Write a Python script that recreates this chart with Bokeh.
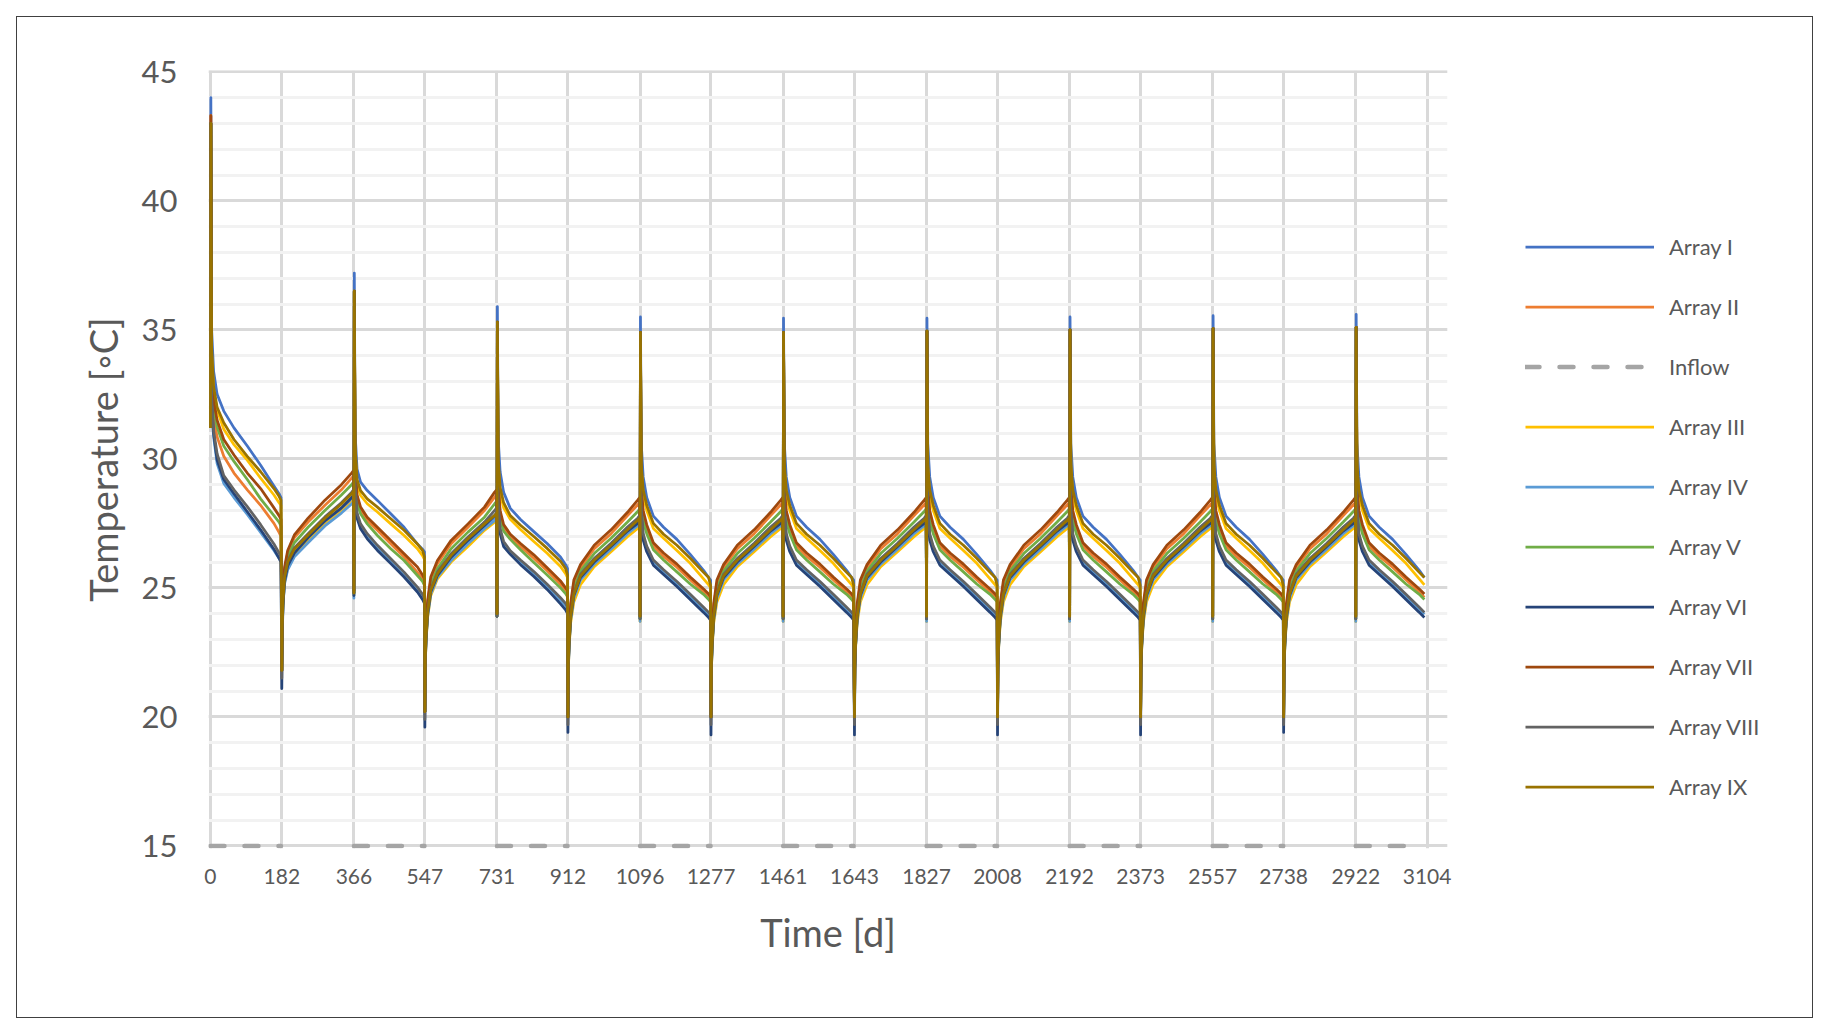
from bokeh.plotting import figure
from bokeh.models import Range1d, FixedTicker, Legend, LegendItem, InlineStyleSheet
from bokeh.embed import file_html
from bokeh.resources import INLINE

# ---------------- data ----------------
BOUNDS = [0, 182, 366, 547, 731, 912, 1096, 1277, 1461, 1643, 1827, 2008,
          2192, 2373, 2557, 2738, 2922, 3104]
TICK_LABELS = [str(b) for b in BOUNDS]
Y_TICKS = [15, 20, 25, 30, 35, 40, 45]
Y_MINOR = list(range(15, 46))

# sample days inside a half-year (relative to its start)
A_OFFSETS = [0, 1, 3, 8, 17, 34, 60, 94, 128, 162, 175, 180]
B_OFFSETS = [0, 1, 3, 7, 15, 32, 67, 110, 152, 178, 183]
LAST_OFFSET = 175

SERIES = ["Array I", "Array II", "Array III", "Array IV", "Array V",
          "Array VI", "Array VII", "Array VIII", "Array IX"]
COLORS = {"Array I": "#4472C4", "Array II": "#ED7D31", "Array III": "#FFC000",
          "Array IV": "#5B9BD5", "Array V": "#70AD47", "Array VI": "#264478",
          "Array VII": "#9E480E", "Array VIII": "#636363", "Array IX": "#997300"}
INFLOW_COLOR = "#A5A5A5"

# half-year profiles
A1 = {
    "Array I":    [31.2, 44.0, 35.0, 33.4, 32.5, 31.85, 31.2, 30.5, 29.75, 28.95, 28.65, 28.5],
    "Array II":   [31.2, 43.3, 32.9, 31.6, 30.85, 30.1, 29.45, 28.8, 28.2, 27.5, 27.15, 27.0],
    "Array III":  [31.2, 43.0, 34.0, 32.65, 31.9, 31.15, 30.55, 29.95, 29.25, 28.6, 28.3, 28.2],
    "Array IV":   [31.2, 43.0, 32.0, 30.85, 29.82, 29.05, 28.5, 27.85, 27.15, 26.45, 26.15, 26.0],
    "Array V":    [31.2, 43.0, 33.3, 32.0, 31.23, 30.5, 29.9, 29.2, 28.45, 27.8, 27.55, 27.4],
    "Array VI":   [31.2, 43.0, 32.2, 30.98, 29.95, 29.2, 28.65, 27.95, 27.25, 26.5, 26.15, 26.0],
    "Array VII":  [31.2, 43.3, 33.6, 32.27, 31.5, 30.75, 30.15, 29.45, 28.85, 28.1, 27.8, 27.65],
    "Array VIII": [31.2, 43.0, 32.4, 31.1, 30.2, 29.35, 28.8, 28.15, 27.45, 26.7, 26.35, 26.2],
    "Array IX":   [31.2, 43.0, 34.3, 32.8, 32.0, 31.4, 30.75, 30.1, 29.5, 28.85, 28.55, 28.4],
}
A2 = {
    "Array I":    [24.8, 37.2, 31.0, 29.6, 29.1, 28.77, 28.39, 27.87, 27.35, 26.7, 26.5, 26.4],
    "Array II":   [24.9, 36.5, 29.6, 28.45, 28.0, 27.6, 27.23, 26.71, 26.2, 25.6, 25.35, 25.2],
    "Array III":  [24.7, 36.5, 30.2, 29.0, 28.58, 28.26, 27.94, 27.48, 27.03, 26.52, 26.25, 26.1],
    "Array IV":   [24.6, 36.5, 28.9, 27.8, 27.35, 26.97, 26.52, 26.0, 25.48, 24.9, 24.65, 24.5],
    "Array V":    [24.8, 36.5, 29.5, 28.3, 27.87, 27.48, 27.03, 26.52, 26.06, 25.48, 25.25, 25.1],
    "Array VI":   [24.7, 36.5, 28.8, 27.7, 27.29, 26.9, 26.45, 25.94, 25.42, 24.84, 24.55, 24.4],
    "Array VII":  [24.9, 36.5, 29.8, 28.6, 28.13, 27.74, 27.35, 26.84, 26.32, 25.81, 25.5, 25.35],
    "Array VIII": [24.8, 36.5, 29.0, 27.9, 27.48, 27.1, 26.65, 26.13, 25.61, 25.03, 24.75, 24.6],
    "Array IX":   [24.8, 36.5, 30.5, 29.2, 28.77, 28.45, 28.13, 27.68, 27.23, 26.7, 26.45, 26.2],
}
A3 = {
    "Array I":    [23.9, 35.9, 30.8, 29.5, 28.7, 28.08, 27.65, 27.18, 26.72, 26.2, 25.9, 25.75],
    "Array II":   [24.0, 35.3, 29.0, 27.85, 27.33, 26.95, 26.6, 26.15, 25.66, 25.14, 24.9, 24.75],
    "Array III":  [23.9, 35.3, 29.8, 28.7, 28.1, 27.66, 27.26, 26.8, 26.34, 25.83, 25.55, 25.4],
    "Array IV":   [23.9, 35.3, 28.3, 27.2, 26.7, 26.35, 25.98, 25.53, 25.04, 24.52, 24.3, 24.15],
    "Array V":    [23.9, 35.3, 28.8, 27.7, 27.2, 26.88, 26.48, 25.98, 25.5, 25.0, 24.78, 24.65],
    "Array VI":   [23.9, 35.3, 28.2, 27.1, 26.6, 26.3, 25.9, 25.44, 24.94, 24.38, 24.15, 24.0],
    "Array VII":  [24.0, 35.3, 29.1, 28.0, 27.45, 27.08, 26.72, 26.28, 25.78, 25.27, 25.0, 24.9],
    "Array VIII": [23.9, 35.3, 28.4, 27.3, 26.8, 26.44, 26.08, 25.63, 25.14, 24.62, 24.4, 24.25],
    "Array IX":   [24.0, 35.3, 30.0, 28.9, 28.3, 27.8, 27.43, 26.99, 26.53, 26.03, 25.75, 25.5],
}
A_LATE = {
    "Array I":    [23.8, 35.5, 30.6, 29.3, 28.5, 27.78, 27.35, 26.88, 26.3, 25.68, 25.4, 25.3],
    "Array II":   [23.9, 34.9, 28.8, 27.85, 27.32, 26.62, 26.22, 25.8, 25.32, 24.84, 24.63, 24.52],
    "Array III":  [23.7, 34.9, 29.6, 28.6, 28.0, 27.3, 26.92, 26.45, 25.95, 25.35, 25.12, 25.0],
    "Array IV":   [23.7, 34.9, 28.0, 27.0, 26.55, 26.0, 25.62, 25.15, 24.65, 24.15, 23.98, 23.9],
    "Array V":    [23.8, 34.9, 28.6, 27.6, 27.1, 26.48, 26.08, 25.62, 25.15, 24.75, 24.55, 24.45],
    "Array VI":   [23.8, 34.9, 27.9, 26.85, 26.4, 25.88, 25.52, 25.05, 24.55, 24.05, 23.85, 23.75],
    "Array VII":  [23.9, 34.9, 28.9, 28.0, 27.45, 26.75, 26.35, 25.92, 25.42, 24.96, 24.76, 24.65],
    "Array VIII": [23.8, 34.9, 28.1, 27.1, 26.62, 26.08, 25.7, 25.25, 24.75, 24.25, 24.05, 23.95],
    "Array IX":   [23.9, 34.9, 29.8, 28.8, 28.2, 27.5, 27.08, 26.65, 26.15, 25.6, 25.4, 25.1],
}
B1 = {
    "Array I":    [21.8, 23.4, 24.4, 25.3, 25.85, 26.3, 26.9, 27.55, 28.05, 28.45, 28.55],
    "Array II":   [21.8, 23.7, 24.8, 25.7, 26.35, 26.95, 27.55, 28.2, 28.8, 29.25, 29.35],
    "Array III":  [21.8, 23.4, 24.4, 25.2, 25.75, 26.25, 26.8, 27.45, 27.95, 28.3, 28.4],
    "Array IV":   [21.8, 23.3, 24.3, 25.15, 25.7, 26.2, 26.75, 27.4, 27.9, 28.25, 28.35],
    "Array V":    [21.8, 23.6, 24.7, 25.6, 26.2, 26.75, 27.35, 28.0, 28.6, 29.0, 29.1],
    "Array VI":   [21.1, 23.0, 24.3, 25.25, 25.85, 26.35, 26.95, 27.6, 28.1, 28.5, 28.6],
    "Array VII":  [21.8, 23.8, 24.9, 25.8, 26.45, 27.05, 27.7, 28.4, 29.0, 29.45, 29.55],
    "Array VIII": [21.5, 23.3, 24.5, 25.45, 26.05, 26.55, 27.1, 27.75, 28.3, 28.7, 28.8],
    "Array IX":   [21.8, 23.5, 24.5, 25.4, 26.0, 26.5, 27.05, 27.7, 28.25, 28.65, 28.75],
}
B2 = {
    "Array I":    [20.2, 22.2, 23.0, 23.95, 24.8, 25.45, 26.15, 26.8, 27.38, 27.75, 27.85],
    "Array II":   [20.2, 22.5, 23.4, 24.4, 25.3, 25.94, 26.71, 27.35, 28.0, 28.52, 28.6],
    "Array III":  [20.2, 22.0, 22.9, 23.85, 24.7, 25.35, 26.0, 26.6, 27.23, 27.55, 27.6],
    "Array IV":   [20.2, 22.1, 22.95, 23.9, 24.75, 25.42, 26.06, 26.71, 27.29, 27.6, 27.7],
    "Array V":    [20.2, 22.4, 23.3, 24.25, 25.1, 25.74, 26.52, 27.16, 27.74, 28.26, 28.35],
    "Array VI":   [19.6, 22.0, 23.0, 24.0, 24.85, 25.48, 26.19, 26.84, 27.42, 27.81, 27.9],
    "Array VII":  [20.2, 22.6, 23.5, 24.5, 25.42, 26.06, 26.84, 27.48, 28.13, 28.71, 28.8],
    "Array VIII": [19.9, 22.2, 23.1, 24.1, 24.95, 25.61, 26.32, 26.97, 27.55, 28.0, 28.1],
    "Array IX":   [20.2, 22.3, 23.1, 24.05, 24.9, 25.55, 26.26, 26.9, 27.48, 27.81, 27.9],
}
B_LATE = {
    "Array I":    [20.0, 22.0, 22.8, 23.8, 24.65, 25.35, 25.96, 26.55, 27.15, 27.46, 27.55],
    "Array II":   [20.0, 22.3, 23.2, 24.3, 25.15, 25.78, 26.52, 27.1, 27.8, 28.22, 28.3],
    "Array III":  [20.0, 21.8, 22.7, 23.65, 24.45, 25.12, 25.82, 26.4, 26.98, 27.3, 27.4],
    "Array IV":   [20.0, 21.9, 22.75, 23.75, 24.6, 25.3, 25.92, 26.5, 27.1, 27.41, 27.5],
    "Array V":    [20.0, 22.2, 23.1, 24.1, 24.95, 25.65, 26.33, 26.92, 27.55, 27.96, 28.05],
    "Array VI":   [19.4, 21.8, 22.8, 23.85, 24.7, 25.4, 26.0, 26.6, 27.2, 27.5, 27.6],
    "Array VII":  [20.0, 22.4, 23.3, 24.4, 25.3, 25.9, 26.65, 27.25, 27.93, 28.4, 28.5],
    "Array VIII": [19.7, 22.0, 22.9, 23.95, 24.8, 25.52, 26.14, 26.73, 27.36, 27.7, 27.8],
    "Array IX":   [20.0, 22.1, 22.9, 23.9, 24.75, 25.46, 26.07, 26.65, 27.25, 27.62, 27.7],
}
# spike tops at the start of each "A" half-year and dips of Array VI per "B" half-year
SPIKE_I = [44.0, 37.2, 35.9, 35.5, 35.45, 35.45, 35.5, 35.55, 35.6]
SPIKE_REST = [None, 36.5, 35.3, 34.9, 34.9, 34.95, 35.0, 35.05, 35.1]
DIP_VI = [21.1, 19.6, 19.4, 19.3, 19.3, 19.3, 19.3, 19.4]
INFLOW_LEVEL = 15
INFLOW_LAST_END = 3090

A_PROFILES = [A1, A2, A3]
B_PROFILES = [B1, B2]


def build(name):
    xs, ys = [], []
    nseg = len(BOUNDS) - 1
    for i in range(nseg):
        s = BOUNDS[i]
        if i % 2 == 0:
            k = i // 2
            prof = A_PROFILES[k] if k < len(A_PROFILES) else A_LATE
            vals = list(prof[name])
            if k > 0:
                vals[1] = SPIKE_I[k] if name == "Array I" else SPIKE_REST[k]
            offs = A_OFFSETS
        else:
            j = i // 2
            prof = B_PROFILES[j] if j < len(B_PROFILES) else B_LATE
            vals = list(prof[name])
            if name == "Array VI":
                vals[0] = DIP_VI[j]
            offs = B_OFFSETS
        for o, v in zip(offs, vals):
            if i == nseg - 1 and o > LAST_OFFSET:
                continue
            xs.append(s + o)
            ys.append(v)
    return xs, ys


inflow_xs, inflow_ys = [], []
for i in range(0, len(BOUNDS) - 1, 2):
    end = BOUNDS[i] + A_OFFSETS[-1] if i < len(BOUNDS) - 2 else INFLOW_LAST_END
    inflow_xs.append([BOUNDS[i], end])
    inflow_ys.append([INFLOW_LEVEL, INFLOW_LEVEL])

# ---------------- figure ----------------
FONT = "Lato"
TXT = "#595959"
GRID = "#D9D9D9"
MINOR = "#F2F2F2"

p = figure(frame_width=1239, frame_height=778,
           min_border_left=192, min_border_right=366,
           min_border_top=54, min_border_bottom=170,
           x_range=Range1d(-5, 3156), y_range=Range1d(14.9, 45.05),
           output_backend="svg", toolbar_location=None,
           background_fill_color="white", border_fill_color="white")
p.outline_line_color = None
p.margin = (16, 0, 0, 16)
p.stylesheets = [InlineStyleSheet(css=(
    ".bk-Canvas::after { content: ''; position: absolute; left: 0; top: 0; "
    "width: 1797px; height: 1002px; box-sizing: border-box; "
    "border: 1px solid #404040; pointer-events: none; z-index: 10; }"))]

p.xaxis.ticker = FixedTicker(ticks=BOUNDS)
p.xaxis.major_label_overrides = {b: l for b, l in zip(BOUNDS, TICK_LABELS)}
p.yaxis.ticker = FixedTicker(ticks=Y_TICKS, minor_ticks=Y_MINOR)
p.xgrid.ticker = FixedTicker(ticks=BOUNDS)
p.ygrid.ticker = FixedTicker(ticks=Y_TICKS, minor_ticks=Y_MINOR)

for ax in (p.xaxis[0], p.yaxis[0]):
    ax.axis_line_color = None
    ax.major_tick_line_color = None
    ax.minor_tick_line_color = None
    ax.major_label_text_font = FONT
    ax.major_label_text_color = TXT
    ax.axis_label_text_font = FONT
    ax.axis_label_text_color = TXT
    ax.axis_label_text_font_style = "normal"
    ax.axis_label_text_font_size = "38px"

p.xaxis.major_label_text_font_size = "21px"
p.yaxis.major_label_text_font_size = "31px"
p.xaxis.major_label_standoff = 14
p.yaxis.major_label_standoff = 25
p.xaxis.axis_label = "Time [d]"
p.yaxis.axis_label = "Temperature [\u25e6C]"
p.xaxis.axis_label_standoff = 22
p.yaxis.axis_label_standoff = 13

p.xgrid.grid_line_color = GRID
p.xgrid.grid_line_width = 3
p.ygrid.grid_line_color = GRID
p.ygrid.grid_line_width = 3
p.ygrid.minor_grid_line_color = MINOR
p.ygrid.minor_grid_line_width = 3

renderers = {}
for name in SERIES[:2]:
    xs, ys = build(name)
    renderers[name] = p.line(xs, ys, line_color=COLORS[name], line_width=2.75,
                             line_join="round")
inflow_r = p.multi_line(inflow_xs, inflow_ys, line_color=INFLOW_COLOR, line_width=4.5,
                        line_dash="14 20", line_cap="round")
for name in SERIES[2:]:
    xs, ys = build(name)
    renderers[name] = p.line(xs, ys, line_color=COLORS[name], line_width=2.75,
                             line_join="round")

order = ["Array I", "Array II", "Inflow", "Array III", "Array IV", "Array V",
         "Array VI", "Array VII", "Array VIII", "Array IX"]
items = []
for name in order:
    r = inflow_r if name == "Inflow" else renderers[name]
    items.append(LegendItem(label=name, renderers=[r]))

legend = Legend(items=items, location=(78, 48), orientation="vertical",
                glyph_width=129, glyph_height=21, label_height=21, spacing=33,
                label_standoff=15, padding=0, margin=0,
                label_text_font=FONT, label_text_font_size="22px",
                label_text_color=TXT, border_line_color=None,
                background_fill_alpha=0)
p.add_layout(legend, "right")

open("out.html", "w").write(file_html(p, INLINE))
